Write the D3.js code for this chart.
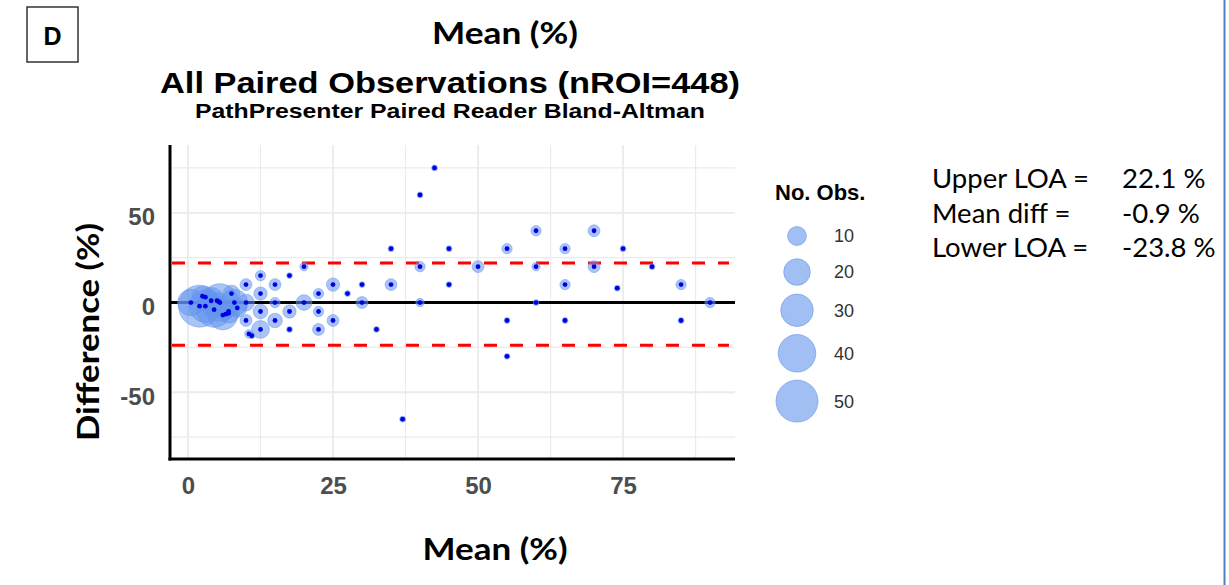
<!DOCTYPE html>
<html>
<head>
<meta charset="utf-8">
<script src="https://cdn.jsdelivr.net/npm/d3@7"></script>
<style>
  body { margin: 0; background: #fff; }
  .tick text { font-family: "Liberation Sans", Arial, sans-serif; font-weight: bold; fill: #4d4d4d; }
</style>
</head>
<body>
<div id="vis"></div>
<script>
// Frame / panel constants
const FRAME_WIDTH = 1229;
const FRAME_HEIGHT = 585;
const PANEL = {left: 170, right: 735, top: 145, bottom: 459};

// Bland-Altman points: mean of the two readers, difference, number of observations
const MEAN_VALS = [0.5, 2, 2.5, 3, 4, 4.5, 5.5, 6, 7, 7.5, 8, 8.5, 10,
  3, 5, 5.3, 6.5, 7,
  10, 12.5, 15, 17.5, 20, 12.5, 15, 20, 17.5, 12.5, 10, 15, 12.5, 10.5, 11, 17.5,
  22.5, 25, 27.5, 22.5, 22.5, 25, 30, 30, 32.5, 35, 35, 37, 40, 42.5, 40, 40,
  45, 45, 50, 55, 55, 55, 60, 60, 60, 65, 65, 65, 70, 70, 74, 75, 80, 85, 85, 90];
const DIFF_VALS = [0, -2, 3.5, -2, 1, -4, 0, -7, -5, 5, 0, -3, 0,
  3, 1, 0.5, -6.5, -6,
  10, 15, 10, 15, 20, 5, 0, 0, -5, -5, -10, -10, -15, -17.5, -18.5, -15,
  5, 10, 5, -5, -15, -10, 10, 0, -15, 30, 10, -65, 60, 75, 20, 0,
  30, 10, 20, 30, -10, -30, 40, 20, 0, 30, 10, -10, 40, 20, 8, 30, 20, 10, -10, 0];
const OBS_COUNTS = [20, 50, 12, 30, 20, 35, 40, 25, 15, 8, 20, 10, 8,
  2, 3, 2, 3, 2,
  4, 3, 4, 1, 2, 5, 3, 7, 5, 6, 4, 6, 9, 2, 1, 1,
  3, 5, 1, 3, 4, 4, 1, 4, 1, 1, 4, 1, 1, 1, 3, 2,
  1, 1, 4, 3, 1, 1, 3, 2, 1, 3, 3, 1, 4, 4, 1, 1, 1, 3, 1, 3];

const LOA_UPPER = 22.1;
const MEAN_DIFF = -0.9;
const LOA_LOWER = -23.8;

const X_TICKS = [0, 25, 50, 75];
const X_MINOR = [12.5, 37.5, 62.5, 87.5];
const Y_TICKS = [-50, 0, 50];
const Y_MINOR = [-75, -25, 25, 75];
const LEGEND_BREAKS = [10, 20, 30, 40, 50];

const STAT_NAMES = ["Upper LOA =", "Mean diff =", "Lower LOA ="];
const STAT_VALS = [LOA_UPPER, MEAN_DIFF, LOA_LOWER];

const BUBBLE_COLOR = "#6495ed";
const GRID_COLOR = "#ebebeb";

const POINTS = MEAN_VALS.map((m, i) => ({mean: m, diff: DIFF_VALS[i], n: OBS_COUNTS[i]}));

// Scales
const X_SCALE = d3.scaleLinear().domain([-3.1, 94.3]).range([PANEL.left, PANEL.right]);
const Y_SCALE = d3.scaleLinear().domain([-87.2, 87.8]).range([PANEL.bottom, PANEL.top]);
const R_SCALE = d3.scaleSqrt().domain([0, 50]).range([0, 21]);

const FRAME = d3.select("#vis")
  .append("svg")
  .attr("width", FRAME_WIDTH)
  .attr("height", FRAME_HEIGHT)
  .style("display", "block");

FRAME.append("rect").attr("width", FRAME_WIDTH).attr("height", FRAME_HEIGHT).attr("fill", "#fff");

// gridlines (minor then major)
const grid = FRAME.append("g");
grid.selectAll(".vminor").data(X_MINOR).enter().append("line")
  .attr("x1", d => X_SCALE(d)).attr("x2", d => X_SCALE(d))
  .attr("y1", PANEL.top).attr("y2", PANEL.bottom)
  .attr("stroke", GRID_COLOR).attr("stroke-width", 1.2);
grid.selectAll(".vmajor").data(X_TICKS).enter().append("line")
  .attr("x1", d => X_SCALE(d)).attr("x2", d => X_SCALE(d))
  .attr("y1", PANEL.top).attr("y2", PANEL.bottom)
  .attr("stroke", GRID_COLOR).attr("stroke-width", 1.8);
grid.selectAll(".hminor").data(Y_MINOR).enter().append("line")
  .attr("x1", PANEL.left).attr("x2", PANEL.right)
  .attr("y1", d => Y_SCALE(d)).attr("y2", d => Y_SCALE(d))
  .attr("stroke", GRID_COLOR).attr("stroke-width", 1.2);
grid.selectAll(".hmajor").data(Y_TICKS).enter().append("line")
  .attr("x1", PANEL.left).attr("x2", PANEL.right)
  .attr("y1", d => Y_SCALE(d)).attr("y2", d => Y_SCALE(d))
  .attr("stroke", GRID_COLOR).attr("stroke-width", 1.8);

// zero line and limits of agreement
FRAME.append("line")
  .attr("x1", PANEL.left).attr("x2", PANEL.right)
  .attr("y1", Y_SCALE(0)).attr("y2", Y_SCALE(0))
  .attr("stroke", "#000").attr("stroke-width", 3);
FRAME.selectAll(".loa").data([LOA_UPPER, LOA_LOWER]).enter().append("line")
  .attr("x1", PANEL.left + 2).attr("x2", PANEL.right - 6)
  .attr("y1", d => Y_SCALE(d)).attr("y2", d => Y_SCALE(d))
  .attr("stroke", "#ff0000").attr("stroke-width", 3)
  .attr("stroke-dasharray", "13,13");

// bubbles, then the point centres
FRAME.append("g").selectAll("circle")
  .data(POINTS).enter().append("circle")
  .attr("cx", d => X_SCALE(d.mean))
  .attr("cy", d => Y_SCALE(d.diff))
  .attr("r", d => R_SCALE(d.n))
  .attr("fill", BUBBLE_COLOR).attr("fill-opacity", 0.55)
  .attr("stroke", BUBBLE_COLOR).attr("stroke-opacity", 0.5).attr("stroke-width", 1);
FRAME.append("g").selectAll("circle")
  .data(POINTS).enter().append("circle")
  .attr("cx", d => X_SCALE(d.mean))
  .attr("cy", d => Y_SCALE(d.diff))
  .attr("r", 2.4)
  .attr("fill", "#0000e6");

// axes (plain hyphen for negatives, as in the original)
FRAME.append("g")
  .attr("transform", "translate(0," + PANEL.bottom + ")")
  .call(d3.axisBottom(X_SCALE).tickValues(X_TICKS).tickSize(0).tickPadding(18)
    .tickFormat(d => String(d)))
  .attr("font-size", 24)
  .call(g => g.select(".domain").remove());
FRAME.append("g")
  .attr("transform", "translate(" + PANEL.left + ",0)")
  .call(d3.axisLeft(Y_SCALE).tickValues(Y_TICKS).tickSize(0).tickPadding(15)
    .tickFormat(d => String(d)))
  .attr("font-size", 24)
  .call(g => g.select(".domain").remove())
  .call(g => g.selectAll(".tick text").attr("dy", "0.5em"));

FRAME.append("line")
  .attr("x1", PANEL.left).attr("x2", PANEL.left)
  .attr("y1", PANEL.top).attr("y2", PANEL.bottom + 1.5)
  .attr("stroke", "#000").attr("stroke-width", 3);
FRAME.append("line")
  .attr("x1", PANEL.left - 1.5).attr("x2", PANEL.right)
  .attr("y1", PANEL.bottom).attr("y2", PANEL.bottom)
  .attr("stroke", "#000").attr("stroke-width", 3);

// titles
FRAME.append("text")
  .attr("x", 450).attr("y", 93)
  .attr("text-anchor", "middle")
  .attr("font-family", "Liberation Sans, Arial, sans-serif")
  .attr("font-weight", "bold").attr("font-size", 30)
  .attr("textLength", 580).attr("lengthAdjust", "spacingAndGlyphs")
  .text("All Paired Observations (nROI=448)");
FRAME.append("text")
  .attr("x", 450).attr("y", 118)
  .attr("text-anchor", "middle")
  .attr("font-family", "Liberation Sans, Arial, sans-serif")
  .attr("font-weight", "bold").attr("font-size", 21)
  .attr("textLength", 510).attr("lengthAdjust", "spacingAndGlyphs")
  .text("PathPresenter Paired Reader Bland-Altman");

// panel letter
FRAME.append("rect")
  .attr("x", 27).attr("y", 7).attr("width", 51).attr("height", 55)
  .attr("fill", "none").attr("stroke", "#333").attr("stroke-width", 1.5);
FRAME.append("text")
  .attr("x", 52.5).attr("y", 45)
  .attr("text-anchor", "middle")
  .attr("font-family", "Liberation Sans, Arial, sans-serif")
  .attr("font-weight", "bold").attr("font-size", 25)
  .text("D");

// axis titles
const AXIS_TITLE_FONT = "Lato, sans-serif";
FRAME.append("text")
  .attr("x", 505).attr("y", 44)
  .attr("text-anchor", "middle")
  .attr("font-family", AXIS_TITLE_FONT)
  .attr("font-weight", "bold").attr("font-size", 31)
  .attr("textLength", 146).attr("lengthAdjust", "spacingAndGlyphs")
  .text("Mean (%)");
FRAME.append("text")
  .attr("x", 495).attr("y", 560)
  .attr("text-anchor", "middle")
  .attr("font-family", AXIS_TITLE_FONT)
  .attr("font-weight", "bold").attr("font-size", 31)
  .attr("textLength", 145).attr("lengthAdjust", "spacingAndGlyphs")
  .text("Mean (%)");
FRAME.append("text")
  .attr("transform", "translate(99,332) rotate(-90)")
  .attr("text-anchor", "middle")
  .attr("font-family", AXIS_TITLE_FONT)
  .attr("font-weight", "bold").attr("font-size", 31)
  .attr("textLength", 218).attr("lengthAdjust", "spacingAndGlyphs")
  .text("Difference (%)");

// size legend
const legend = FRAME.append("g");
legend.append("text")
  .attr("x", 775).attr("y", 200)
  .attr("font-family", "Liberation Sans, Arial, sans-serif")
  .attr("font-weight", "bold").attr("font-size", 22)
  .text("No. Obs.");
const keyH = LEGEND_BREAKS.map(b => Math.max(2 * R_SCALE(b) + 8, 36));
let keyY = 236;
const keyCenters = LEGEND_BREAKS.map((b, i) => {
  if (i > 0) keyY += (keyH[i - 1] + keyH[i]) / 2;
  return keyY;
});
legend.selectAll("circle").data(LEGEND_BREAKS).enter().append("circle")
  .attr("cx", 797)
  .attr("cy", (d, i) => keyCenters[i])
  .attr("r", d => R_SCALE(d))
  .attr("fill", BUBBLE_COLOR).attr("fill-opacity", 0.6)
  .attr("stroke", BUBBLE_COLOR).attr("stroke-opacity", 0.6);
legend.selectAll(".lab").data(LEGEND_BREAKS).enter().append("text")
  .attr("x", 834)
  .attr("y", (d, i) => keyCenters[i])
  .attr("dy", "0.36em")
  .attr("font-family", "Liberation Sans, Arial, sans-serif")
  .attr("font-size", 18).attr("fill", "#333")
  .text(d => d);

// limits of agreement summary
const stats = FRAME.append("g")
  .attr("font-family", "Lato, sans-serif").attr("font-size", 27.5).attr("fill", "#000");
stats.selectAll(".nm").data(STAT_NAMES).enter().append("text")
  .attr("x", 932).attr("y", (d, i) => 188 + i * 34.5)
  .text(d => d);
stats.selectAll(".vl").data(STAT_VALS).enter().append("text")
  .attr("x", 1122).attr("y", (d, i) => 188 + i * 34.5)
  .text(d => d.toFixed(1) + " %");

// right frame border
FRAME.append("line")
  .attr("x1", 1224.5).attr("x2", 1224.5)
  .attr("y1", 0).attr("y2", FRAME_HEIGHT)
  .attr("stroke", "#4f81bd").attr("stroke-width", 2);
</script>
</body>
</html>
